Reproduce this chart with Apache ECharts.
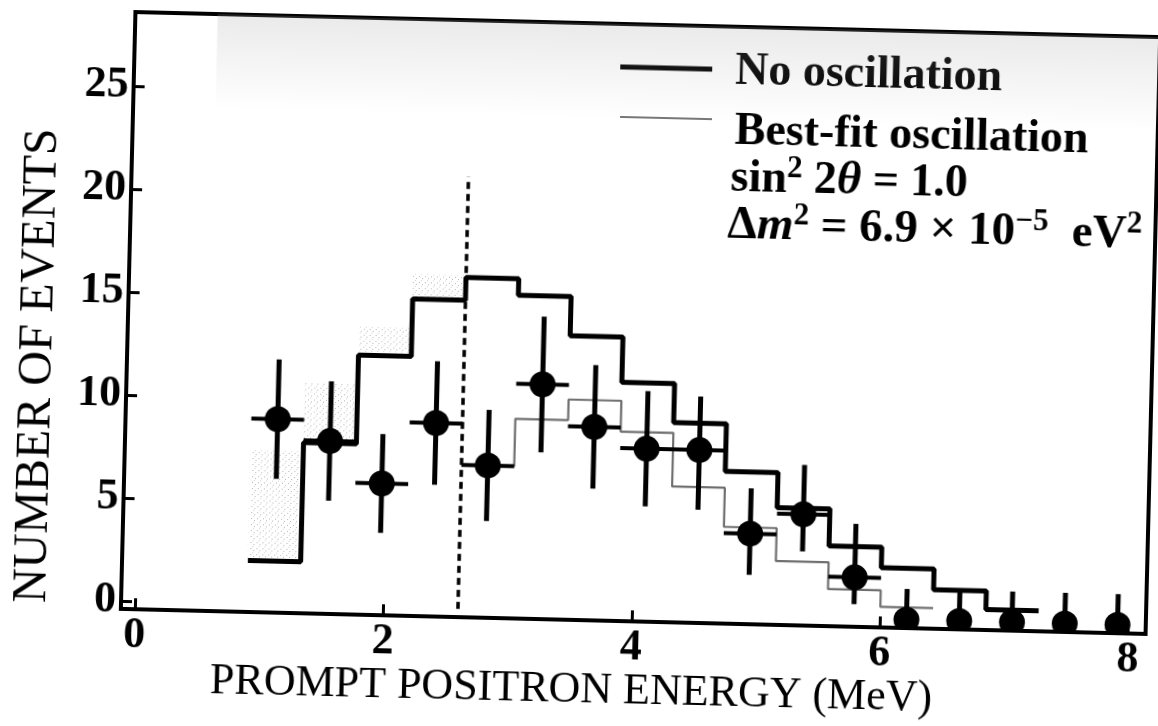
<!DOCTYPE html>
<html>
<head>
<meta charset="utf-8">
<script src="https://cdn.jsdelivr.net/npm/echarts@6/dist/echarts.min.js"></script>
<style>
html,body{margin:0;padding:0;background:#fff;overflow:hidden;width:1158px;height:726px;}
#chart{width:1158px;height:726px;transform:rotate(1.4deg);transform-origin:579px 363px;}
</style>
</head>
<body>
<div id="chart"></div>
<script>
// ---- data ----
const binLow = [0.9, 1.325, 1.75, 2.175, 2.6, 3.025, 3.45, 3.875, 4.3, 4.725, 5.15, 5.575, 6.0, 6.425, 6.85, 7.275, 7.7];
const binWidth = 0.425;
const noOscillation = [2.1, 7.9, 12.2, 15.0, 16.1, 15.3, 13.4, 11.2, 9.3, 7.0, 5.3, 3.5, 2.5, 1.5, 0.6];
const bestFit = [null, null, null, null, 7.0, 9.3, 10.3, 8.8, 6.2, 4.3, 2.7, 1.4, 0.6];
const shadedTop = [7.5, 10.8, 13.6, 16.2];
const dataCounts = [9, 8, 6, 9, 7, 11, 9, 8, 8, 4, 5, 2, 0, 0, 0, 0, 0];
const errUp   = [2.9, 2.9, 2.4, 3.0, 2.7, 3.3, 3.0, 2.8, 2.6, 2.2, 2.4, 2.6, 1.5, 1.5, 1.5, 1.5, 1.5];
const errDown = [2.9, 2.9, 2.4, 3.0, 2.7, 3.3, 3.0, 2.8, 2.9, 2.0, 1.8, 1.3, 0, 0, 0, 0, 0];
const thresholdEnergy = 2.6;
const thresholdTop = 21;
const xTicks = [0, 2, 4, 6, 8];
const yTicks = [0, 5, 10, 15, 20, 25];

// ---- build step-line point lists from the bins ----
function stepPoints(vals) {
  const pts = [];
  vals.forEach((v, i) => {
    if (v == null) return;
    pts.push([binLow[i], v]);
    pts.push([binLow[i] + binWidth, v]);
  });
  return pts;
}
const dataTable = dataCounts.map((v, i) => [binLow[i] + binWidth / 2, v, errUp[i], errDown[i], binWidth / 2]);
const shadedTable = shadedTop.map((t, i) => [binLow[i], noOscillation[i], t, binWidth]);

// deterministic stipple pattern
const pat = document.createElement('canvas');
pat.width = 6; pat.height = 6;
const pctx = pat.getContext('2d');
pctx.fillStyle = 'rgba(90,90,90,0.45)';
pctx.fillRect(0, 0, 1, 1);
pctx.fillRect(3, 4, 1, 1);
pctx.fillStyle = 'rgba(130,130,130,0.35)';
pctx.fillRect(5, 2, 1, 1);

const serif = "'Liberation Serif', 'DejaVu Serif', serif";
const chart = echarts.init(document.getElementById('chart'), null, {renderer: 'canvas'});

const supStyle = {fontSize: 31, fontWeight: 'bold', fontFamily: serif, verticalAlign: 'top', padding: [0, 0, 22, 0]};
const itStyle = {fontSize: 47, fontStyle: 'italic', fontWeight: 'bold', fontFamily: serif};

chart.setOption({
  animation: false,
  backgroundColor: '#fff',
  grid: {left: 127, right: 6, top: 23, bottom: 106, show: true, borderColor: '#000', borderWidth: 4, backgroundColor: 'transparent'},
  xAxis: {
    type: 'value', min: -0.113, max: 8.14,
    axisLine: {show: false, onZero: false},
    axisTick: {show: true, inside: true, length: 11, customValues: xTicks, lineStyle: {color: '#000', width: 3}},
    axisLabel: {customValues: xTicks, margin: 5, color: '#000', fontFamily: serif, fontWeight: 'bold', fontSize: 44},
    splitLine: {show: false}
  },
  yAxis: {
    type: 'value', min: -0.4, max: 28.6,
    axisLine: {show: false, onZero: false},
    axisTick: {show: true, inside: true, length: 11, customValues: yTicks, lineStyle: {color: '#000', width: 3}},
    axisLabel: {customValues: yTicks, margin: 5, color: '#000', fontFamily: serif, fontWeight: 'bold', fontSize: 44},
    splitLine: {show: false}
  },
  graphic: [
    {type: 'text', x: 38, y: 379, rotation: Math.PI / 2,
     style: {text: 'NUMBER OF EVENTS', fill: '#000', font: "48px 'Liberation Serif', serif", textAlign: 'center', textVerticalAlign: 'middle'}},
    {type: 'text', x: 579, y: 690,
     style: {text: 'PROMPT POSITRON ENERGY (MeV)', fill: '#000', font: "44px 'Liberation Serif', serif", textAlign: 'center', textVerticalAlign: 'middle'}},
    {type: 'line', shape: {x1: 613, y1: 66, x2: 705, y2: 66}, style: {stroke: '#000', lineWidth: 5}},
    {type: 'line', shape: {x1: 614, y1: 116, x2: 706, y2: 116}, style: {stroke: '#777', lineWidth: 2}},
    {type: 'text', x: 728, y: 68,
     style: {text: 'No oscillation', fill: '#000', font: "bold 46px 'Liberation Serif', serif", textVerticalAlign: 'middle'}},
    {type: 'text', x: 729, y: 128,
     style: {text: 'Best-fit oscillation', fill: '#000', font: "bold 46px 'Liberation Serif', serif", textVerticalAlign: 'middle'}},
    {type: 'text', x: 726, y: 175,
     style: {
       text: 'sin{sup|2} 2{it|θ} = 1.0', fill: '#000', textVerticalAlign: 'middle',
       font: "bold 46px 'Liberation Serif', serif",
       rich: {sup: supStyle, it: itStyle}
     }},
    {type: 'text', x: 724, y: 222,
     style: {
       text: 'Δ{it|m}{sup|2} = 6.9 × 10{sup|−5}  eV{sup|2}', fill: '#000', textVerticalAlign: 'middle',
       font: "bold 47px 'Liberation Serif', serif",
       rich: {sup: supStyle, it: itStyle}
     }}
  ],
  series: [
    {
      // faint stipple band along the top (scan texture)
      type: 'custom', silent: true, clip: true, z: 1,
      data: [[0.55, 24.0, 28.6, 8.14]],
      renderItem: function (params, api) {
        const p0 = api.coord([api.value(0), api.value(2)]);
        const p1 = api.coord([api.value(3), api.value(1)]);
        return {type: 'rect', shape: {x: p0[0], y: p0[1], width: p1[0] - p0[0], height: p1[1] - p0[1]},
          style: {fill: new echarts.graphic.LinearGradient(0, 0, 0, 1, [
            {offset: 0, color: 'rgba(160,160,160,0.22)'}, {offset: 1, color: 'rgba(160,160,160,0)'}])}};
      }
    },
    {
      // stippled region above the no-oscillation histogram below threshold
      type: 'custom', silent: true, clip: true, z: 2,
      data: shadedTable,
      renderItem: function (params, api) {
        const p0 = api.coord([api.value(0), api.value(2)]);
        const p1 = api.coord([api.value(0) + api.value(3), api.value(1)]);
        return {type: 'rect', shape: {x: p0[0], y: p0[1], width: p1[0] - p0[0], height: p1[1] - p0[1]},
          style: {fill: {image: pat, repeat: 'repeat'}}};
      }
    },
    {
      name: 'Best-fit oscillation', type: 'line', data: stepPoints(bestFit), showSymbol: false, z: 3,
      lineStyle: {color: '#6f6f6f', width: 2.2}
    },
    {
      name: 'No oscillation', type: 'line', data: stepPoints(noOscillation), showSymbol: false, z: 4,
      lineStyle: {color: '#000', width: 5}
    },
    {
      type: 'line', data: [], z: 4,
      markLine: {
        silent: true, symbol: 'none', label: {show: false},
        lineStyle: {color: '#000', width: 3.5, type: [7, 5]},
        data: [[{coord: [thresholdEnergy, 0]}, {coord: [thresholdEnergy, thresholdTop]}]]
      }
    },
    {
      name: 'Data', type: 'custom', clip: true, z: 6,
      data: dataTable,
      renderItem: function (params, api) {
        const x = api.value(0), y = api.value(1), up = api.value(2), dn = api.value(3), hw = api.value(4);
        const c = api.coord([x, y]);
        const top = api.coord([x, y + up]);
        const bot = api.coord([x, y - dn]);
        const children = [
          {type: 'line', shape: {x1: c[0], y1: top[1], x2: c[0], y2: bot[1]}, style: {stroke: '#000', lineWidth: 5}},
          {type: 'circle', shape: {cx: c[0], cy: c[1], r: 13}, style: {fill: '#000'}}
        ];
        if (y > 0) {
          const l = api.coord([x - hw, y]);
          const r = api.coord([x + hw, y]);
          children.push({type: 'line', shape: {x1: l[0], y1: c[1], x2: r[0], y2: c[1]}, style: {stroke: '#000', lineWidth: 4}});
        }
        return {type: 'group', children: children};
      }
    }
  ]
});
</script>
</body>
</html>
